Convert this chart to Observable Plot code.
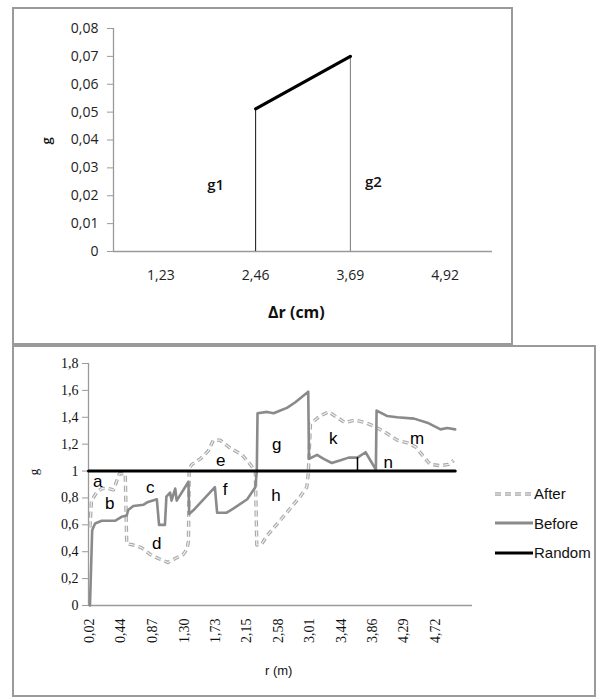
<!DOCTYPE html>
<html>
<head>
<meta charset="utf-8">
<script src="https://cdn.jsdelivr.net/npm/d3@7"></script>
<script src="https://cdn.jsdelivr.net/npm/@observablehq/plot@0.6"></script>
<style>
  html, body { margin: 0; padding: 0; background: #fff; }
  #wrap { position: relative; width: 596px; height: 698px; overflow: hidden; background: #fff; }
  .box { position: absolute; border: 2px solid #9a9a9a; box-sizing: border-box; }
  .abs { position: absolute; white-space: nowrap; }
  .legrow { position: absolute; display: flex; align-items: center; font-family: "Liberation Sans Narrow", "Liberation Sans", sans-serif; font-stretch: condensed; font-size: 15px; color: #111; }
</style>
</head>
<body>
<div id="wrap">
  <div class="box" style="left:12px;top:7px;width:501px;height:338px;"></div>
  <div class="box" style="left:12px;top:345px;width:584px;height:352px;"></div>
  <div id="top" class="abs" style="left:13px;top:8px;"></div>
  <div id="bottom" class="abs" style="left:13px;top:346px;"></div>
</div>
<script>
// ---------- Top chart data ----------
const topCats = ["1,23", "2,46", "3,69", "4,92"];
const topLineCats = ["2,46", "3,69"];
const topLineG = [0.0512, 0.0700];
const topRuleColors = ["#111", "#777"];
const topYTicks = [0, 0.01, 0.02, 0.03, 0.04, 0.05, 0.06, 0.07, 0.08];
const topLabels = ["g1", "g2"];
const topLabelCats = ["2,46", "3,69"];
const topLabelG = [0.0237, 0.0248];

// ---------- Bottom chart data ----------
const xTickValues = [0.02, 0.44, 0.87, 1.30, 1.73, 2.15, 2.58, 3.01, 3.44, 3.86, 4.29, 4.72];
const yTickValues = [0, 0.2, 0.4, 0.6, 0.8, 1, 1.2, 1.4, 1.6, 1.8];

const beforeR = [0.02, 0.05, 0.09, 0.18, 0.36, 0.45, 0.52, 0.54, 0.61, 0.75, 0.81, 0.93, 0.96, 1.04, 1.06, 1.11, 1.13, 1.18, 1.20, 1.36, 1.37, 1.43, 1.72, 1.75, 1.88, 1.97, 2.16, 2.27, 2.29, 2.30, 2.43, 2.52, 2.61, 2.70, 2.81, 2.99, 3.00, 3.11, 3.20, 3.31, 3.43, 3.54, 3.66, 3.77, 3.91, 3.92, 4.06, 4.20, 4.43, 4.61, 4.79, 4.88, 4.99];
const beforeG = [0, 0.56, 0.61, 0.63, 0.63, 0.66, 0.67, 0.71, 0.74, 0.75, 0.77, 0.79, 0.60, 0.60, 0.81, 0.84, 0.78, 0.87, 0.78, 0.92, 0.68, 0.71, 0.88, 0.69, 0.69, 0.72, 0.79, 0.88, 1.00, 1.43, 1.44, 1.43, 1.45, 1.47, 1.51, 1.59, 1.09, 1.12, 1.09, 1.06, 1.08, 1.10, 1.10, 1.14, 1.01, 1.45, 1.41, 1.40, 1.39, 1.36, 1.31, 1.32, 1.31];

const afterR = [0.02, 0.04, 0.11, 0.18, 0.27, 0.34, 0.38, 0.42, 0.50, 0.52, 0.61, 0.72, 0.84, 0.95, 1.08, 1.18, 1.29, 1.34, 1.36, 1.37, 1.41, 1.52, 1.63, 1.70, 1.79, 1.93, 2.09, 2.20, 2.27, 2.29, 2.36, 2.43, 2.65, 2.88, 2.97, 2.99, 3.02, 3.15, 3.27, 3.38, 3.49, 3.63, 3.77, 3.90, 4.06, 4.20, 4.34, 4.45, 4.54, 4.65, 4.79, 4.90, 4.97];
const afterG = [0.58, 0.78, 0.84, 0.87, 0.87, 0.86, 0.92, 0.98, 0.98, 0.46, 0.45, 0.43, 0.38, 0.35, 0.32, 0.35, 0.38, 0.42, 0.48, 1.02, 1.05, 1.09, 1.15, 1.23, 1.23, 1.17, 1.12, 1.05, 1.00, 0.45, 0.46, 0.52, 0.66, 0.81, 0.88, 0.98, 1.35, 1.41, 1.44, 1.40, 1.36, 1.38, 1.36, 1.33, 1.28, 1.23, 1.21, 1.18, 1.12, 1.05, 1.04, 1.05, 1.08];

const randomR = [0, 4.99];
const randomG = [1, 1];

const markerR = [3.66];
const markerG1 = [1.0];
const markerG2 = [1.10];

const regionLetters = ["a", "b", "c", "d", "e", "f", "g", "h", "k", "m", "n"];
const regionR = [0.125, 0.29, 0.84, 0.93, 1.80, 1.86, 2.56, 2.55, 3.33, 4.47, 4.08];
const regionG = [0.92, 0.76, 0.88, 0.46, 1.08, 0.86, 1.20, 0.82, 1.24, 1.24, 1.06];

const legendNames = ["After", "Before", "Random"];

// ---------- helpers ----------
const fmtTopY = (d) => d === 0 ? "0" : d3.format(".2f")(d).replace(".", ",");
const fmtBotY = (d) => d3.format("~g")(d).replace(".", ",");
const fmtBotX = (d) => d3.format(".2f")(d).replace(".", ",");

// ---------- Top chart ----------
const topPts = topLineCats.map((c, i) => ({x: topCats.indexOf(c), g: topLineG[i], color: topRuleColors[i]}));
const topLab = topLabels.map((t, i) => ({x: topCats.indexOf(topLabelCats[i]), g: topLabelG[i], t}));
const sansTop = "'Open Sans', 'DejaVu Sans', sans-serif";

const topPlot = Plot.plot({
  width: 498, height: 335,
  marginLeft: 100, marginRight: 19, marginTop: 20, marginBottom: 92,
  style: {fontFamily: sansTop, background: "transparent", overflow: "visible"},
  x: {domain: [-0.5, topCats.length - 0.5], label: null},
  y: {domain: [0, 0.08], label: null},
  marks: [
    Plot.ruleX([-0.5], {stroke: "#9a9a9a", strokeWidth: 1.3}),
    Plot.ruleY([0], {stroke: "#9a9a9a", strokeWidth: 1.3}),
    Plot.axisY({ticks: topYTicks, tickSize: 6, tickFormat: () => "", stroke: "#9a9a9a", label: null}),
    Plot.axisY({ticks: topYTicks, tickSize: 0, tickPadding: 15, tickFormat: fmtTopY, fontSize: 14, fill: "#222", label: null}),
    Plot.axisX({ticks: d3.range(topCats.length), tickSize: 0, tickPadding: 19, tickFormat: (i) => topCats[i], fontSize: 14, fill: "#222", label: null}),
    Plot.ruleX(topPts, {x: "x", y1: 0, y2: "g", stroke: "color", strokeWidth: 1}),
    Plot.line(topPts, {x: "x", y: "g", stroke: "#000", strokeWidth: 3.2}),
    Plot.text(topLab, {x: "x", y: "g", text: "t", fontSize: 15, fontWeight: 600, fill: "#111"})
  ]
});
document.getElementById("top").appendChild(topPlot);
{
  const texts = topPlot.querySelectorAll("g[aria-label='text'] text");
  if (texts.length === 2) {
    texts[0].setAttribute("dx", "-40");
    texts[1].setAttribute("dx", "23");
  }
}

const wrap = document.getElementById("wrap");
function addText(txt, left, top, css) {
  const d = document.createElement("div");
  d.className = "abs";
  d.textContent = txt;
  d.style.cssText += `left:${left}px;top:${top}px;` + css;
  wrap.appendChild(d);
  return d;
}
addText("g", 42, 132, `font-family:${sansTop};font-size:13px;font-weight:600;transform:rotate(-90deg);color:#111;`);
addText("Δr (cm)", 268, 301, `font-family:${sansTop};font-size:16px;font-weight:700;color:#111;`);

// ---------- Bottom chart ----------
const before = beforeR.map((r, i) => ({r, g: beforeG[i]}));
const after = afterR.map((r, i) => ({r, g: afterG[i]}));
const random = randomR.map((r, i) => ({r, g: randomG[i]}));
const markers = markerR.map((r, i) => ({r, g1: markerG1[i], g2: markerG2[i]}));
const letters = regionLetters.map((t, i) => ({t, r: regionR[i], g: regionG[i]}));
const serif = "'Liberation Serif', 'DejaVu Serif', serif";
const sans = "'Liberation Sans', Arial, sans-serif";

const botPlot = Plot.plot({
  width: 582, height: 350,
  marginLeft: 75, marginRight: 123, marginTop: 17, marginBottom: 91,
  style: {fontFamily: serif, background: "transparent", overflow: "visible"},
  x: {domain: [0, 5.225], label: null},
  y: {domain: [0, 1.8], label: null},
  marks: [
    Plot.ruleX([0], {stroke: "#9a9a9a", strokeWidth: 1.3}),
    Plot.ruleY([0], {stroke: "#9a9a9a", strokeWidth: 1.3}),
    Plot.axisY({ticks: yTickValues, tickSize: 6, tickFormat: () => "", stroke: "#9a9a9a", label: null}),
    Plot.axisY({ticks: yTickValues, tickSize: 0, tickPadding: 10, tickFormat: fmtBotY, fontSize: 14, fill: "#111", fontFamily: serif, label: null}),
    Plot.axisX({ticks: xTickValues, tickSize: 0, tickPadding: 13, tickRotate: -90, tickFormat: fmtBotX, fontSize: 14, fill: "#111", fontFamily: serif, label: null}),
    Plot.line(after, {x: "r", y: "g", stroke: "#a8a8a8", strokeWidth: 3.4, strokeDasharray: "6,4", strokeLinecap: "butt"}),
    Plot.line(after, {x: "r", y: "g", stroke: "#efefef", strokeWidth: 1.2, strokeDasharray: "6,4", strokeLinecap: "butt"}),
    Plot.line(before, {x: "r", y: "g", stroke: "#8a8a8a", strokeWidth: 2.6}),
    Plot.line(random, {x: "r", y: "g", stroke: "#000", strokeWidth: 3}),
    Plot.ruleX(markers, {x: "r", y1: "g1", y2: "g2", stroke: "#000", strokeWidth: 1.5}),
    Plot.text(letters, {x: "r", y: "g", text: "t", fontSize: 17, fill: "#000", fontFamily: sans})
  ]
});
document.getElementById("bottom").appendChild(botPlot);

addText("g", 31, 464, `font-family:${serif};font-size:13px;transform:rotate(-90deg);color:#111;`);
addText("r (m)", 265, 663, `font-family:${sans};font-size:13px;color:#111;`);

// ---------- Legend ----------
const legendSwatches = {
  After: `<svg width="40" height="8"><line x1="1" y1="4" x2="39" y2="4" stroke="#a8a8a8" stroke-width="3.4" stroke-dasharray="6,4"/><line x1="1" y1="4" x2="39" y2="4" stroke="#efefef" stroke-width="1.2" stroke-dasharray="6,4"/></svg>`,
  Before: `<svg width="40" height="8"><line x1="1" y1="4" x2="39" y2="4" stroke="#8a8a8a" stroke-width="2.8"/></svg>`,
  Random: `<svg width="40" height="8"><line x1="1" y1="4" x2="39" y2="4" stroke="#000" stroke-width="3"/></svg>`
};
legendNames.forEach((name, i) => {
  const row = document.createElement("div");
  row.className = "legrow";
  row.style.left = "494px";
  row.style.top = (485 + i * 29.5) + "px";
  row.innerHTML = legendSwatches[name] + `<span>${name}</span>`;
  wrap.appendChild(row);
});
</script>
</body>
</html>
